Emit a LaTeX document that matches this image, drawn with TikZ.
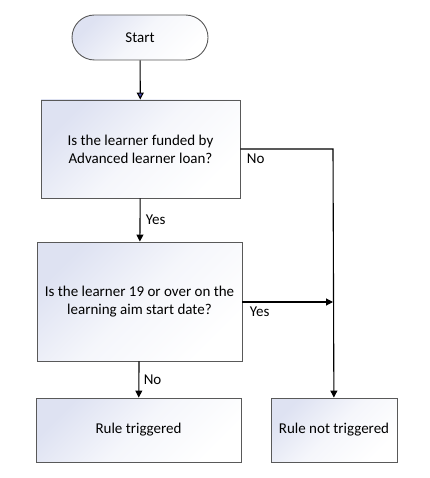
\documentclass[tikz,border=0pt]{standalone}
\usepackage{fontspec}
\setmainfont{Carlito}
\usetikzlibrary{arrows.meta,shapes.misc}
\definecolor{boxtint}{RGB}{222,226,242}
\begin{document}
\begin{tikzpicture}[x=1pt, y=-1pt,
		box/.style={draw=black!65, line width=0.9pt, shade, top color=boxtint, bottom color=white, middle color=boxtint!30!white, shading angle=45, align=center, font=\fontsize{15}{18}\selectfont, inner sep=0pt},
		flow/.style={line width=1.1pt, -{Triangle[length=7pt, width=7pt]}},
		lbl/.style={font=\fontsize{15}{18}\selectfont}]
		\useasboundingbox (0, 0) rectangle (429, 478);
		\node [box, rounded rectangle, minimum width=136pt, minimum height=45pt] (start) at (140, 37.5) {Start};
		\node [box, minimum width=199pt, minimum height=98pt] (ask1) at (140.5, 149) {Is the learner funded by\\Advanced learner loan?};
		\node [box, minimum width=205pt, minimum height=119pt] (ask2) at (139.5, 301.5) {Is the learner 19 or over on the\\learning aim start date?};
		\node [box, minimum width=205pt, minimum height=64pt] (hit) at (138.5, 430) {Rule triggered};
		\node [box, minimum width=126pt, minimum height=64pt] (miss) at (334, 430) {Rule not triggered};
		\coordinate (bend) at (333, 149);
		\coordinate (join) at (333, 302);

		\draw [line width=1.1pt, -{Triangle[length=7pt, width=7pt, fill=blue!55!black!70]}] (start) to (ask1);
		\draw [flow] (ask1) to node [lbl, anchor=west, xshift=2pt] {Yes} (ask2);
		\draw [flow] (ask2) to node [lbl, anchor=west, xshift=1pt] {No} (hit);
		\draw [flow] (ask1.east) -- (bend) -- (miss);
		\draw [flow] (ask2.east |- join) to (join);
		\draw (ask1.east) node [lbl, anchor=north west, xshift=3pt, yshift=-1pt] {No};
		\draw (ask2.east |- join) node [lbl, anchor=north west, xshift=4pt, yshift=-1pt] {Yes};
\end{tikzpicture}
\end{document}
